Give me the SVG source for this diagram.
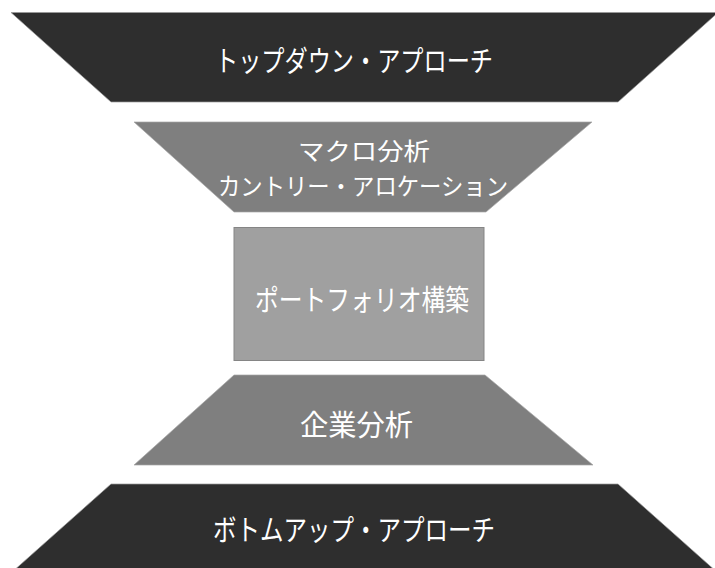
<svg xmlns="http://www.w3.org/2000/svg" width="715" height="568" viewBox="0 0 715 568">
<style>
.dark{fill:#2e2e2e;stroke:#9a9a9a;stroke-width:0.7}
.mid{fill:#7f7f7f;stroke:#a8a8a8;stroke-width:0.7}
.box{fill:#a0a0a0;stroke:#858585;stroke-width:1}
.t{font-family:"Noto Sans CJK JP","Noto Sans CJK SC",sans-serif;font-size:29px;fill:#ffffff}
.s{font-size:24px}
</style>
<rect width="715" height="568" fill="#ffffff"/>
<g id="top-down">
<polygon class="dark" points="11,12.5 718,12.5 618,102 111,102"/>
<text class="t" x="215" y="72" textLength="278" lengthAdjust="spacingAndGlyphs">トップダウン・アプローチ</text>
</g>
<g id="macro">
<polygon class="mid" points="134,122 592,122 486,212 234,212"/>
<text class="t s" x="298" y="159.5" textLength="132" lengthAdjust="spacingAndGlyphs">マクロ分析</text>
<text class="t s" x="218" y="194.5" textLength="290" lengthAdjust="spacingAndGlyphs">カントリー・アロケーション</text>
</g>
<g id="portfolio">
<rect class="box" x="234" y="227.5" width="250" height="133"/>
<text class="t" x="255" y="311" textLength="214" lengthAdjust="spacingAndGlyphs">ポートフォリオ構築</text>
</g>
<g id="company">
<polygon class="mid" points="234,375 485,375 593,465 134,465"/>
<text class="t" x="300" y="436" textLength="113" lengthAdjust="spacingAndGlyphs">企業分析</text>
</g>
<g id="bottom-up">
<polygon class="dark" points="111,484 618,484 718,573 11,573"/>
<text class="t" x="213" y="541" textLength="282" lengthAdjust="spacingAndGlyphs">ボトムアップ・アプローチ</text>
</g>
<g id="connectors"></g>
</svg>
